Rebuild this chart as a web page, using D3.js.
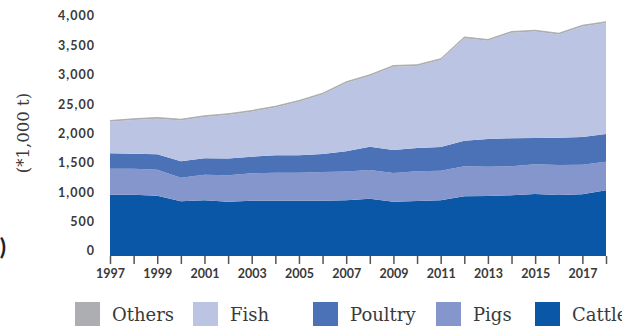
<!DOCTYPE html>
<html>
<head>
<meta charset="utf-8">
<script src="https://cdn.jsdelivr.net/npm/d3@7"></script>
<style>
  html, body { margin: 0; padding: 0; background: #fff; }
  svg { display: block; }
  .tick-label { font-family: Lato, "Open Sans", sans-serif; font-weight: 700; font-size: 12.5px; fill: #3a3a3a; }
  .legend-label, .axis-title { font-family: "DejaVu Serif", serif; fill: #3a3a3a; }
</style>
</head>
<body>
<svg id="chart" width="622" height="326"></svg>
<script>
// Supply by product group, 1997–2018 (thousand tonnes)
const years   = [1997,1998,1999,2000,2001,2002,2003,2004,2005,2006,2007,2008,2009,2010,2011,2012,2013,2014,2015,2016,2017,2018];
const cattle  = [1043,1043,1026, 931, 948, 924, 941, 941, 941, 941, 948, 975, 924, 936, 948,1018,1021,1033,1055,1038,1050,1118];
const pigs    = [ 443, 443, 443, 402, 436, 451, 466, 477, 477, 488, 490, 488, 488, 505, 504, 509, 499, 494, 505, 511, 504, 487];
const poultry = [ 262, 255, 262, 279, 279, 284, 283, 296, 296, 306, 344, 397, 391, 397, 403, 436, 471, 477, 448, 465, 471, 471];
const fish    = [ 537, 573, 605, 695, 702, 739, 765, 814, 911,1013,1163,1202,1417,1395,1480,1743,1672,1796,1813,1757,1881,1888];
const others  = [  30,  30,  30,  30,  30,  30,  30,  30,  30,  30,  30,  30,  30,  30,  30,  30,  30,  30,  30,  30,  30,  30];

const yTickValues = [0, 500, 1000, 1500, 2000, 2500, 3000, 3500, 4000];
const yTickLabels = ["0", "500", "1,000", "1,500", "2,000", "25,00", "3,000", "3,500", "4,000"];
const xLabelYears = [1997,1999,2001,2003,2005,2007,2009,2011,2013,2015,2017];

const seriesKeys   = ["Cattle", "Pigs", "Poultry", "Fish", "Others"];
const seriesValues = { Cattle: cattle, Pigs: pigs, Poultry: poultry, Fish: fish, Others: others };
const colors = { Cattle: "#0b57a7", Pigs: "#8496cb", Poultry: "#4b71b7", Fish: "#bbc5e3", Others: "#acaeb1" };
const legendOrder = ["Others", "Fish", "Poultry", "Pigs", "Cattle"];

const rows = years.map((yr, i) => {
  const r = { year: yr };
  seriesKeys.forEach(k => r[k] = seriesValues[k][i]);
  return r;
});

const svg = d3.select("#chart");

const x = d3.scaleLinear().domain([1997, 2018]).range([110, 606]);
const y = d3.scaleLinear().domain([0, 4000]).range([256, 21]);

const stacked = d3.stack().keys(seriesKeys)(rows);

const area = d3.area()
  .x(d => x(d.data.year))
  .y0(d => y(d[0]))
  .y1(d => y(d[1]));

svg.append("g").selectAll("path")
  .data(stacked)
  .join("path")
  .attr("d", area)
  .attr("fill", d => colors[d.key]);

// y tick labels (text sits slightly above the value line)
const yg = svg.append("g");
yg.selectAll("text")
  .data(yTickValues)
  .join("text")
  .attr("class", "tick-label")
  .attr("x", 95)
  .attr("y", d => y(d) - 5)
  .attr("dy", "0.35em")
  .attr("text-anchor", "end")
  .attr("letter-spacing", 1)
  .text((d, i) => yTickLabels[i]);

// x axis: tick at every year, labels on odd years
const xAxis = d3.axisBottom(x)
  .tickValues(years)
  .tickSize(8)
  .tickSizeOuter(0)
  .tickFormat(d => xLabelYears.includes(d) ? String(d) : "");

const xg = svg.append("g").attr("transform", "translate(0,256)").call(xAxis);
xg.select(".domain").remove();
xg.selectAll(".tick line").attr("stroke", "#555").attr("stroke-width", 1.5);
xg.selectAll(".tick text")
  .attr("class", "tick-label")
  .attr("y", 13)
  .attr("dy", "0.71em");

// y axis title
svg.append("text")
  .attr("class", "axis-title")
  .attr("transform", "translate(29,133) rotate(-90)")
  .attr("text-anchor", "middle")
  .attr("font-size", 16.5)
  .text("(*1,000 t)");

// fragment of the preceding heading at the left edge
svg.append("text")
  .attr("x", 6)
  .attr("y", 255)
  .attr("text-anchor", "end")
  .attr("font-family", "Lato, sans-serif")
  .attr("font-weight", 700)
  .attr("font-size", 23)
  .attr("fill", "#222")
  .text(")");

// legend
const legendX = { Others: 75, Fish: 193, Poultry: 313, Pigs: 436, Cattle: 535 };
const lg = svg.append("g").selectAll("g")
  .data(legendOrder)
  .join("g")
  .attr("transform", d => `translate(${legendX[d]},302)`);
lg.append("rect")
  .attr("width", 25).attr("height", 24)
  .attr("fill", d => colors[d]);
lg.append("text")
  .attr("class", "legend-label")
  .attr("x", 37).attr("y", 19)
  .attr("font-size", 18)
  .text(d => d);
</script>
</body>
</html>
